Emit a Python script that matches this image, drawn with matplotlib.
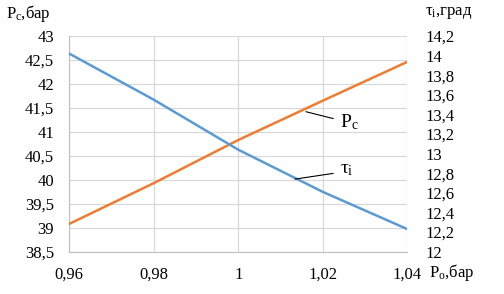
import matplotlib
import numpy as np
import matplotlib.pyplot as plt

matplotlib.rcParams['font.family'] = ['Liberation Serif', 'DejaVu Serif']
matplotlib.rcParams['mathtext.fontset'] = 'custom'
matplotlib.rcParams['mathtext.rm'] = 'Liberation Serif'
matplotlib.rcParams['mathtext.it'] = 'Liberation Serif'

# data
p0 = [0.96, 0.98, 1.00, 1.02, 1.04]
pc = [39.08, 39.93, 40.83, 41.65, 42.46]
tau = [14.02, 13.55, 13.04, 12.61, 12.23]

x_ticks = [0.96, 0.98, 1.00, 1.02, 1.04]
x_labels = ['0,96', '0,98', '1', '1,02', '1,04']
left_ticks = [38.5, 39, 39.5, 40, 40.5, 41, 41.5, 42, 42.5, 43]
right_ticks = [12, 12.2, 12.4, 12.6, 12.8, 13, 13.2, 13.4, 13.6, 13.8, 14, 14.2]


def comma(v):
    s = ('%.1f' % v).rstrip('0').rstrip('.')
    return s.replace('.', ',')


fig = plt.figure(figsize=(5.04, 2.94), dpi=100)
ax = fig.add_axes([0.1375, 0.144, 0.6706, 0.7336])
ax2 = ax.twinx()

ax.plot(p0, pc, color='#ED7D31', lw=1.8, zorder=3)
ax2.plot(p0, tau, color='#5B9BD5', lw=1.8, zorder=3)

ax.set_xlim(0.96, 1.04)
ax.set_ylim(38.5, 43)
ax2.set_ylim(12, 14.2)

ax.set_xticks(x_ticks)
ax.set_xticklabels(x_labels)
ax.set_yticks(left_ticks)
ax.set_yticklabels([comma(v) for v in left_ticks])
ax2.set_yticks(right_ticks)
ax2.set_yticklabels([comma(v) for v in right_ticks])

ax.grid(True, color='#D9D9D9', lw=0.9)
ax.set_axisbelow(True)
for a in (ax, ax2):
    for s in a.spines.values():
        s.set_visible(False)
    a.tick_params(length=0, labelsize=12)
ax.spines['left'].set_visible(True)
ax.spines['bottom'].set_visible(True)
ax.spines['left'].set_color('#BFBFBF')
ax.spines['bottom'].set_color('#BFBFBF')
ax.tick_params(axis='y', pad=11)
ax.tick_params(axis='x', pad=11)
ax2.tick_params(axis='y', pad=13)

fig.text(0.012, 0.955, r'P$_\mathrm{c}$,бар', fontsize=12, va='center', ha='left')
fig.text(0.843, 0.955, r'τ$_\mathrm{i}$,град', fontsize=12, va='center', ha='left')
fig.text(0.851, 0.072, r'P$_\mathrm{o}$,бар', fontsize=12, va='center', ha='left')

ax.annotate(r'P$_\mathrm{c}$', xy=(1.016, 41.42), xytext=(1.0241, 41.2),
            fontsize=14, va='center', ha='left',
            arrowprops=dict(arrowstyle='-', color='black', lw=0.8,
                            shrinkA=3, shrinkB=0, relpos=(0, 0.6)))
ax2.annotate(r'τ$_\mathrm{i}$', xy=(1.0134, 12.74), xytext=(1.0241, 12.835),
             fontsize=14, va='center', ha='left',
             arrowprops=dict(arrowstyle='-', color='black', lw=0.8,
                             shrinkA=3, shrinkB=0, relpos=(0, 0.35)))

fig.savefig('out.png', dpi=100)
